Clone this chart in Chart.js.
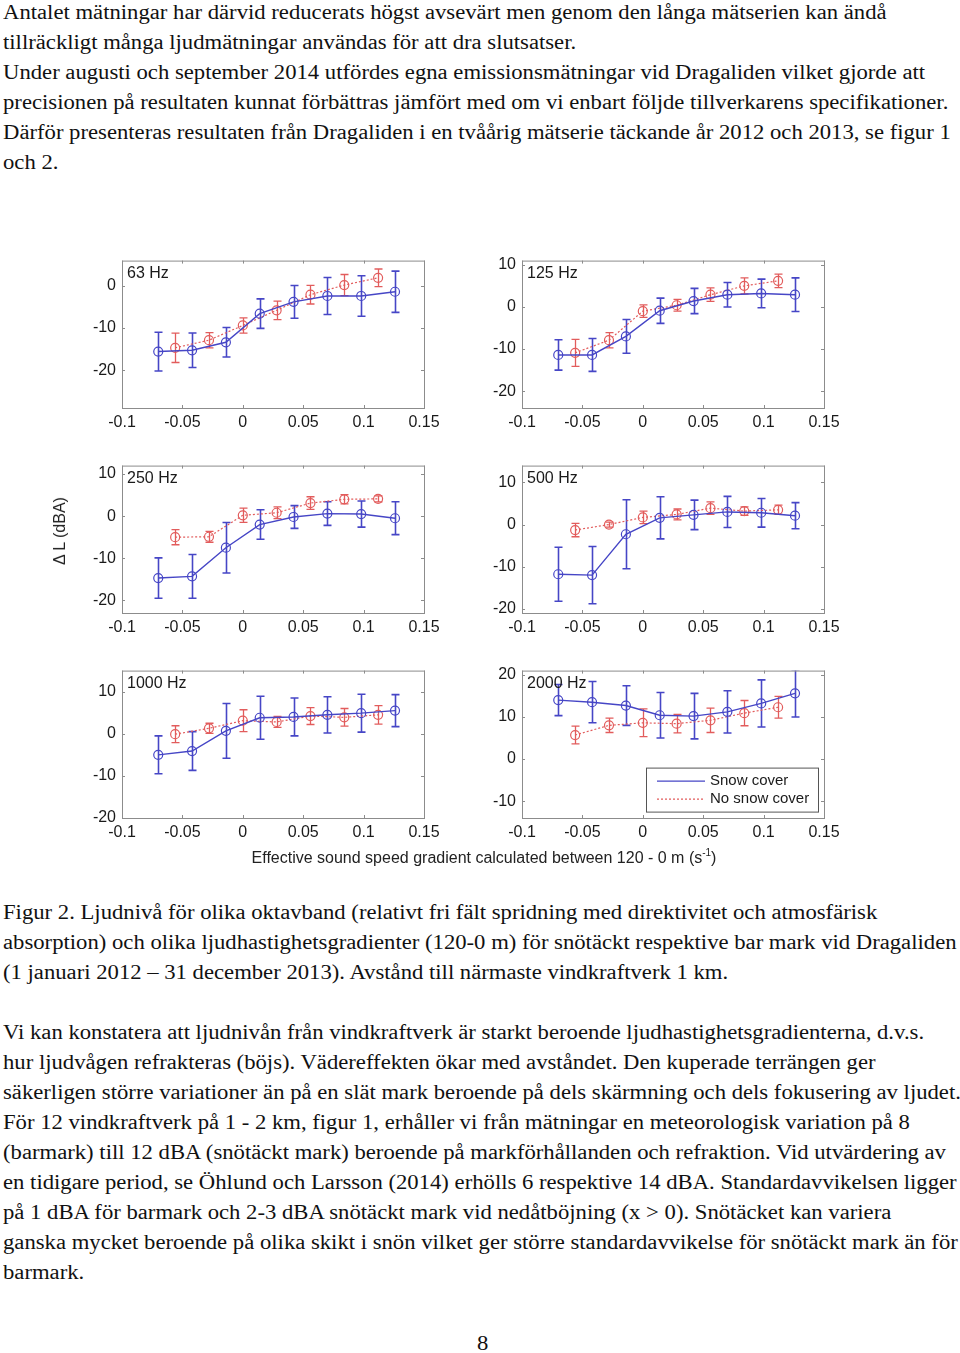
<!DOCTYPE html>
<html lang="sv">
<head>
<meta charset="utf-8">
<script src="https://cdn.jsdelivr.net/npm/chart.js@4/dist/chart.umd.min.js"></script>
<style>
  html, body { margin: 0; padding: 0; background: #fff; }
  body { position: relative; width: 960px; height: 1353px; overflow: hidden; }
  .txt { position: absolute; left: 3px; font-family: "Liberation Serif", "Times New Roman", serif;
         font-size: 20px; line-height: 30px; color: #111; white-space: nowrap;
         transform: scaleX(1.134); transform-origin: 0 0; }
  canvas { position: absolute; }
  .lbl { position: absolute; font-family: "Liberation Sans", Arial, sans-serif; font-size: 16px; color: #222; white-space: nowrap; }
</style>
</head>
<body>
<div class="txt" style="top:-3px">
Antalet mätningar har därvid reducerats högst avsevärt men genom den långa mätserien kan ändå<br>
tillräckligt många ljudmätningar användas för att dra slutsatser.<br>
Under augusti och september 2014 utfördes egna emissionsmätningar vid Dragaliden vilket gjorde att<br>
precisionen på resultaten kunnat förbättras jämfört med om vi enbart följde tillverkarens specifikationer.<br>
Därför presenteras resultaten från Dragaliden i en tvåårig mätserie täckande år 2012 och 2013, se figur 1<br>
och 2.
</div>

<canvas id="c63" width="387" height="193" style="left:62px;top:245px"></canvas>
<canvas id="c125" width="387" height="193" style="left:462px;top:245px"></canvas>
<canvas id="c250" width="387" height="193" style="left:62px;top:450px"></canvas>
<canvas id="c500" width="387" height="193" style="left:462px;top:450px"></canvas>
<canvas id="c1000" width="387" height="193" style="left:62px;top:655px"></canvas>
<canvas id="c2000" width="387" height="193" style="left:462px;top:655px"></canvas>

<div class="lbl" style="left:60px;top:531px;transform:translate(-50%,-50%) rotate(-90deg)">Δ L (dBA)</div>
<div class="lbl" style="left:484px;top:857px;transform:translate(-50%,-50%)">Effective sound speed gradient calculated between 120 - 0 m (s<sup style="font-size:10px">-1</sup>)</div>

<div class="txt" style="top:897px">
Figur 2. Ljudnivå för olika oktavband (relativt fri fält spridning med direktivitet och atmosfärisk<br>
absorption) och olika ljudhastighetsgradienter (120-0 m) för snötäckt respektive bar mark vid Dragaliden<br>
(1 januari 2012 – 31 december 2013). Avstånd till närmaste vindkraftverk 1 km.
</div>

<div class="txt" style="top:1017px">
Vi kan konstatera att ljudnivån från vindkraftverk är starkt beroende ljudhastighetsgradienterna, d.v.s.<br>
hur ljudvågen refrakteras (böjs). Vädereffekten ökar med avståndet. Den kuperade terrängen ger<br>
säkerligen större variationer än på en slät mark beroende på dels skärmning och dels fokusering av ljudet.<br>
För 12 vindkraftverk på 1 - 2 km, figur 1, erhåller vi från mätningar en meteorologisk variation på 8<br>
(barmark) till 12 dBA (snötäckt mark) beroende på markförhållanden och refraktion. Vid utvärdering av<br>
en tidigare period, se Öhlund och Larsson (2014) erhölls 6 respektive 14 dBA. Standardavvikelsen ligger<br>
på 1 dBA för barmark och 2-3 dBA snötäckt mark vid nedåtböjning (x &gt; 0). Snötäcket kan variera<br>
ganska mycket beroende på olika skikt i snön vilket ger större standardavvikelse för snötäckt mark än för<br>
barmark.
</div>

<div class="txt" style="top:1328px;left:477px">8</div>

<script>
// gradient bins (s^-1)
const xSnow = [-0.07, -0.042, -0.014, 0.014, 0.042, 0.07, 0.098, 0.126];
const xBare = [-0.056, -0.028, 0, 0.028, 0.056, 0.084, 0.112];
const xTicks = [-0.1, -0.05, 0, 0.05, 0.1, 0.15];

// 63 Hz
const snow63 = [-15.6, -15.3, -13.4, -6.6, -3.8, -2.4, -2.4, -1.4];
const snow63Err = [4.6, 4.1, 3.5, 3.5, 3.9, 4.4, 4.8, 4.9];
const bare63 = [-14.7, -12.9, -9.4, -5.8, -2.1, 0.2, 1.9];
const bare63Err = [3.5, 1.8, 1.8, 2.2, 2.2, 2.5, 2.1];

// 125 Hz
const snow125 = [-11.4, -11.4, -7.0, -0.9, 1.4, 2.9, 3.2, 2.9];
const snow125Err = [3.6, 3.9, 4.0, 3.0, 3.0, 2.9, 3.4, 4.0];
const bare125 = [-10.9, -7.9, -1.0, 0.4, 2.9, 5.0, 6.2];
const bare125Err = [3.2, 1.8, 1.5, 1.4, 1.6, 1.9, 1.6];

// 250 Hz
const snow250 = [-14.7, -14.3, -7.5, -2.0, -0.2, 0.6, 0.5, -0.5];
const snow250Err = [4.8, 5.2, 6.0, 3.5, 2.7, 2.8, 3.1, 3.9];
const bare250 = [-5.0, -4.9, 0.2, 0.8, 3.1, 4.0, 4.1];
const bare250Err = [1.8, 1.3, 1.7, 1.4, 1.5, 1.1, 0.7];

// 500 Hz
const snow500 = [-11.8, -12.0, -2.3, 1.6, 2.3, 3.0, 2.8, 2.1];
const snow500Err = [6.4, 6.8, 8.2, 5.0, 3.5, 3.7, 3.4, 3.1];
const bare500 = [-1.3, 0, 1.7, 2.4, 3.9, 3.2, 3.5];
const bare500Err = [1.6, 0.6, 1.5, 1.3, 1.5, 1.0, 1.1];

// 1000 Hz
const snow1000 = [-5.0, -4.1, 0.7, 3.8, 4.0, 4.5, 4.9, 5.5];
const snow1000Err = [4.5, 4.6, 6.5, 5.1, 4.5, 4.3, 4.5, 3.8];
const bare1000 = [-0.1, 1.3, 3.1, 2.8, 4.2, 3.9, 4.5];
const bare1000Err = [2.0, 1.2, 2.6, 1.3, 2.0, 2.1, 2.2];

// 2000 Hz
const snow2000 = [14.0, 13.5, 12.7, 10.4, 10.2, 11.2, 13.2, 15.6];
const snow2000Err = [3.7, 4.9, 4.7, 5.4, 5.4, 5.0, 5.6, 5.6];
const bare2000 = [5.7, 8.0, 8.6, 8.4, 9.2, 10.9, 12.3];
const bare2000Err = [2.1, 1.7, 3.3, 2.2, 2.9, 3.0, 2.6];

const BLUE = "rgb(70,70,198)";
const RED = "rgb(226,92,92)";
const AXIS = "#8c8c8c";
const SANS = "'Liberation Sans', Arial, sans-serif";

// error bars, box, inward ticks, panel title, legend
const matlabLook = {
  id: "matlabLook",
  beforeDatasetsDraw(chart) {
    const { ctx, chartArea: a } = chart;
    const xs = chart.scales.x, ys = chart.scales.y;
    ctx.save();
    ctx.beginPath();
    ctx.rect(a.left, a.top, a.right - a.left, a.bottom - a.top);
    ctx.clip();
    chart.data.datasets.forEach((ds) => {
      ctx.strokeStyle = ds.borderColor;
      ctx.lineWidth = ds.errWidth;
      ds.data.forEach((p, i) => {
        const e = ds.err[i];
        const px = Math.round(xs.getPixelForValue(p.x)) + 0.5;
        const y1 = ys.getPixelForValue(p.y + e);
        const y2 = ys.getPixelForValue(p.y - e);
        ctx.beginPath();
        ctx.moveTo(px, y1); ctx.lineTo(px, y2);
        ctx.moveTo(px - 4, y1); ctx.lineTo(px + 4, y1);
        ctx.moveTo(px - 4, y2); ctx.lineTo(px + 4, y2);
        ctx.stroke();
      });
    });
    ctx.restore();
  },
  afterDraw(chart, args, opts) {
    const { ctx, chartArea: a } = chart;
    const xs = chart.scales.x, ys = chart.scales.y;
    ctx.save();
    ctx.strokeStyle = AXIS;
    ctx.lineWidth = 1;
    ctx.strokeRect(a.left + 0.5, a.top + 0.5, a.right - a.left, a.bottom - a.top);
    ctx.beginPath();
    xs.ticks.forEach((t) => {
      const px = Math.round(xs.getPixelForValue(t.value)) + 0.5;
      ctx.moveTo(px, a.bottom); ctx.lineTo(px, a.bottom - 3);
      ctx.moveTo(px, a.top); ctx.lineTo(px, a.top + 3);
    });
    ys.ticks.forEach((t) => {
      const py = Math.round(ys.getPixelForValue(t.value)) + 0.5;
      ctx.moveTo(a.left, py); ctx.lineTo(a.left + 3, py);
      ctx.moveTo(a.right, py); ctx.lineTo(a.right - 3, py);
    });
    ctx.stroke();

    ctx.fillStyle = "#1a1a1a";
    ctx.font = "16px " + SANS;
    ctx.textBaseline = "middle";
    ctx.fillText(opts.title, a.left + 5, a.top + 13);

    if (opts.legend) {
      const bx = a.left + 124, by = a.top + 97, bw = 172, bh = 44;
      ctx.fillStyle = "#fff";
      ctx.fillRect(bx, by, bw, bh);
      ctx.strokeStyle = "#555";
      ctx.strokeRect(bx + 0.5, by + 0.5, bw, bh);
      ctx.font = "15px " + SANS;
      chart.data.datasets.forEach((ds, i) => {
        const ly = by + 13 + i * 18;
        ctx.strokeStyle = ds.borderColor;
        ctx.lineWidth = 1.3;
        ctx.setLineDash(ds.borderDash || []);
        ctx.beginPath();
        ctx.moveTo(bx + 11, ly + 0.5); ctx.lineTo(bx + 59, ly + 0.5);
        ctx.stroke();
        ctx.setLineDash([]);
        ctx.fillStyle = "#1a1a1a";
        ctx.fillText(ds.label, bx + 64, ly);
      });
    }
    ctx.restore();
  }
};

function makePanel(id, title, yMin, yMax, yTicks, snow, snowErr, bare, bareErr, legend) {
  const tickFont = { size: 16, family: SANS };
  return new Chart(document.getElementById(id), {
    type: "line",
    data: {
      datasets: [
        {
          label: "Snow cover",
          data: xSnow.map((x, i) => ({ x, y: snow[i] })),
          err: snowErr,
          errWidth: 1.6,
          borderColor: BLUE,
          borderWidth: 1.4,
          pointRadius: 4.5,
          pointBorderWidth: 1.2,
          pointBorderColor: BLUE,
          pointBackgroundColor: "rgba(0,0,0,0)",
          tension: 0
        },
        {
          label: "No snow cover",
          data: xBare.map((x, i) => ({ x, y: bare[i] })),
          err: bareErr,
          errWidth: 1.3,
          borderColor: RED,
          borderWidth: 1.2,
          borderDash: [2, 2],
          pointRadius: 4.5,
          pointBorderWidth: 1.2,
          pointBorderColor: RED,
          pointBackgroundColor: "rgba(0,0,0,0)",
          tension: 0
        }
      ]
    },
    options: {
      responsive: false,
      animation: false,
      events: [],
      layout: { padding: { top: 15, right: 25, left: 0, bottom: 0 } },
      plugins: {
        legend: { display: false },
        tooltip: { enabled: false },
        matlabLook: { title, legend }
      },
      scales: {
        x: {
          type: "linear",
          min: -0.1,
          max: 0.15,
          afterBuildTicks: (s) => { s.ticks = xTicks.map((v) => ({ value: v })); },
          afterFit: (s) => { s.height = 30; },
          grid: { display: false, drawTicks: false },
          border: { display: false },
          ticks: { color: "#1a1a1a", font: tickFont, padding: 5, maxRotation: 0, autoSkip: false,
                   callback: (v) => String(v) }
        },
        y: {
          min: yMin,
          max: yMax,
          afterBuildTicks: (s) => { s.ticks = yTicks.map((v) => ({ value: v })); },
          afterFit: (s) => { s.width = 60; },
          grid: { display: false, drawTicks: false },
          border: { display: false },
          ticks: { color: "#1a1a1a", font: tickFont, padding: 6, callback: (v) => String(v) }
        }
      }
    },
    plugins: [matlabLook]
  });
}

makePanel("c63", "63 Hz", -29, 6, [-20, -10, 0], snow63, snow63Err, bare63, bare63Err, false);
makePanel("c125", "125 Hz", -24, 11, [-20, -10, 0, 10], snow125, snow125Err, bare125, bare125Err, false);
makePanel("c250", "250 Hz", -23, 12, [-20, -10, 0, 10], snow250, snow250Err, bare250, bare250Err, false);
makePanel("c500", "500 Hz", -21, 14, [-20, -10, 0, 10], snow500, snow500Err, bare500, bare500Err, false);
makePanel("c1000", "1000 Hz", -20, 15, [-20, -10, 0, 10], snow1000, snow1000Err, bare1000, bare1000Err, false);
makePanel("c2000", "2000 Hz", -14, 21, [-10, 0, 10, 20], snow2000, snow2000Err, bare2000, bare2000Err, true);
</script>
</body>
</html>
